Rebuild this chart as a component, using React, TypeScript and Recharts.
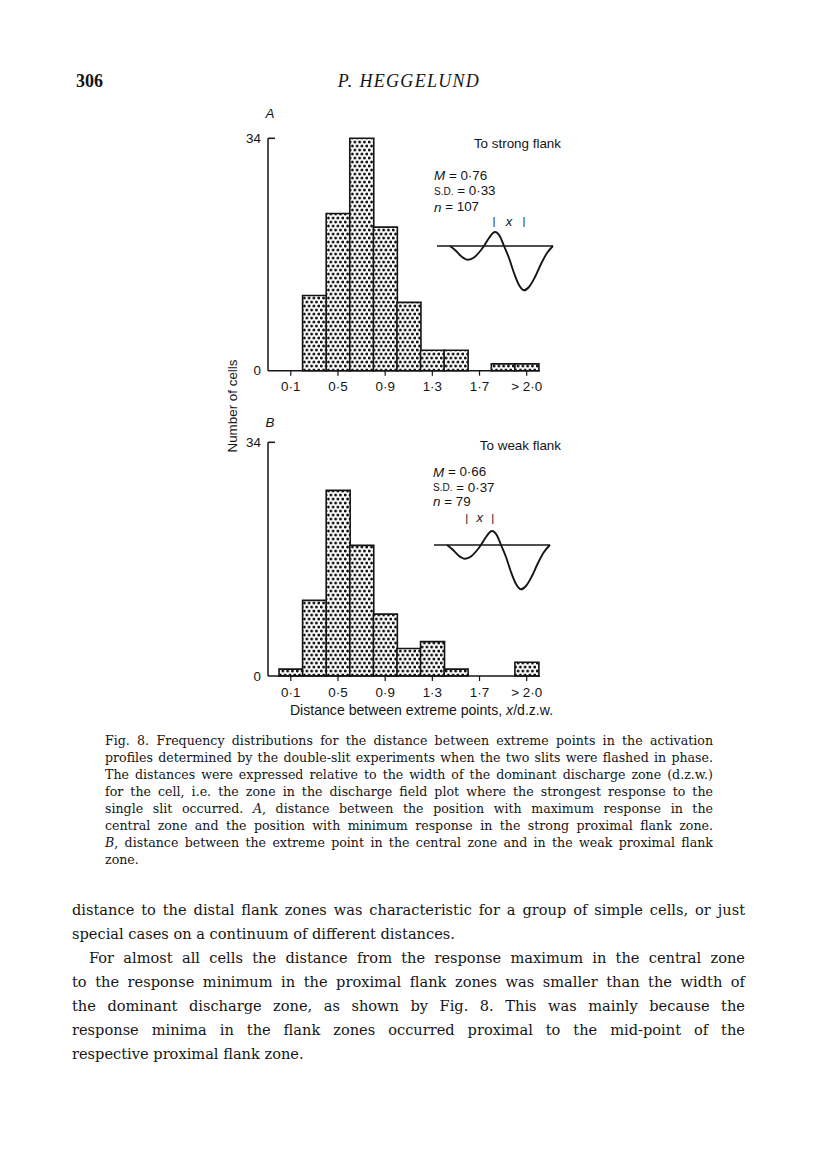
import React from 'react';
import { BarChart, Bar, XAxis, YAxis, LineChart, Line, ReferenceLine } from 'recharts';

// bins of 0.2 d.z.w., labelled by their centre
const bins = ['0·1', '0·3', '0·5', '0·7', '0·9', '1·1', '1·3', '1·5', '1·7', '1·9', '> 2·0'];
const strongCounts = [0, 11, 23, 34, 21, 10, 3, 3, 0, 1, 1]; // A, n = 107
const weakCounts = [1, 11, 27, 19, 9, 4, 5, 1, 0, 0, 2]; // B, n = 79
const yTicks = [0, 34];

// schematic activation profile drawn in the insets
const profileX = [13, 18, 24, 31, 37, 42, 47, 52, 58, 63, 67, 72, 77, 82, 87, 92, 98, 104, 110, 116];
const profileY = [0, -4, -10, -13.7, -11.5, -6.5, 0, 8, 14, 9.5, 0, -12, -27, -39, -44.3, -41, -31, -18, -7, 0];

const captionLines = [
  'Fig. 8. Frequency distributions for the distance between extreme points in the activation',
  'profiles determined by the double-slit experiments when the two slits were flashed in phase.',
  'The distances were expressed relative to the width of the dominant discharge zone (d.z.w.)',
  'for the cell, i.e. the zone in the discharge field plot where the strongest response to the',
  'single slit occurred. *A*, distance between the position with maximum response in the',
  'central zone and the position with minimum response in the strong proximal flank zone.',
  '*B*, distance between the extreme point in the central zone and in the weak proximal flank',
  'zone.',
];

const bodyLines = [
  'distance to the distal flank zones was characteristic for a group of simple cells, or just',
  'special cases on a continuum of different distances.',
  'For almost all cells the distance from the response maximum in the central zone',
  'to the response minimum in the proximal flank zones was smaller than the width of',
  'the dominant discharge zone, as shown by Fig. 8. This was mainly because the',
  'response minima in the flank zones occurred proximal to the mid-point of the',
  'respective proximal flank zone.',
];
const bodyLast = [1, 6];

const SANS = '"Liberation Sans", Arial, sans-serif';
const SERIF = '"Liberation Serif", "Times New Roman", serif';
const BOOK = '"DejaVu Serif", "Liberation Serif", serif';
const INK = '#151515';
const FS = 13.4;

const strongData = bins.map((bin, i) => ({ bin, count: strongCounts[i] }));
const weakData = bins.map((bin, i) => ({ bin, count: weakCounts[i] }));
const profileData = profileX.map((x, i) => ({ x, y: profileY[i] }));

const AXIS_X = 68;
const X_AXIS_H = 25;

function YTick(props: any) {
  const { y, payload } = props;
  return (
    <g>
      <text x={AXIS_X - 7} y={y} textAnchor="end" dominantBaseline="central" fontSize={FS} fontFamily={SANS} fill={INK}>
        {payload.value}
      </text>
      {payload.value === 34 && <line x1={AXIS_X} x2={AXIS_X + 7} y1={y} y2={y} stroke={INK} strokeWidth={1.5} />}
    </g>
  );
}

function Histogram({ data, top, plotTop, plotHeight, id }: any) {
  const H = 300;
  return (
    <div style={{ position: 'absolute', left: 200, top }}>
      <BarChart
        width={380}
        height={H}
        data={data}
        margin={{ top: plotTop, right: 40, bottom: H - plotTop - plotHeight - X_AXIS_H, left: 0 }}
        barCategoryGap={0}
      >
        <defs>
          <pattern id={id} width={4.8} height={8} patternUnits="userSpaceOnUse">
            <rect width={4.8} height={8} fill="#fff" />
            <circle cx={1.2} cy={2} r={1.5} fill="#111" />
            <circle cx={3.6} cy={6} r={1.5} fill="#111" />
          </pattern>
        </defs>
        <XAxis
          dataKey="bin"
          height={X_AXIS_H}
          interval={1}
          tickSize={5}
          tickMargin={6}
          padding={{ left: 11, right: 1.5 }}
          axisLine={{ stroke: INK, strokeWidth: 1.5 }}
          tickLine={{ stroke: INK, strokeWidth: 1.2 }}
          tick={{ fill: INK, fontSize: FS, fontFamily: SANS }}
        />
        <YAxis
          width={AXIS_X}
          domain={[0, 34]}
          ticks={yTicks}
          tickLine={false}
          axisLine={{ stroke: INK, strokeWidth: 1.5 }}
          tick={<YTick />}
        />
        <Bar dataKey="count" fill={`url(#${id})`} stroke={INK} strokeWidth={1.6} isAnimationActive={false} />
      </BarChart>
    </div>
  );
}

function Profile({ left, lineY }: { left: number; lineY: number }) {
  return (
    <div style={{ position: 'absolute', left: left - 2, top: lineY - 16 - 2 }}>
      <LineChart width={120} height={66} data={profileData} margin={{ top: 2, right: 2, bottom: 2, left: 2 }}>
        <XAxis dataKey="x" type="number" domain={[0, 116]} hide />
        <YAxis type="number" domain={[-46, 16]} hide />
        <ReferenceLine y={0} stroke={INK} strokeWidth={1.3} />
        <Line type="monotone" dataKey="y" stroke={INK} strokeWidth={1.9} dot={false} isAnimationActive={false} />
      </LineChart>
    </div>
  );
}

function Stats({ x, y, m, sd, n }: any) {
  const t = { fontFamily: SANS, fontSize: FS, fill: INK, dominantBaseline: 'central' as const };
  return (
    <g>
      <text x={x} y={y[0]} {...t}>
        <tspan fontStyle="italic">M</tspan> = {m}
      </text>
      <text x={x} y={y[1]} {...t}>
        <tspan fontSize={10}>S.D.</tspan> = {sd}
      </text>
      <text x={x} y={y[2]} {...t}>
        <tspan fontStyle="italic">n</tspan> = {n}
      </text>
    </g>
  );
}

function Marker({ x1, x2, y }: any) {
  const t = { fontFamily: SANS, fill: INK, dominantBaseline: 'central' as const, textAnchor: 'middle' as const };
  return (
    <g>
      <text x={x1} y={y} fontSize={11.5} {...t}>|</text>
      <text x={(x1 + x2) / 2} y={y} fontSize={13} fontStyle="italic" {...t}>x</text>
      <text x={x2} y={y} fontSize={11.5} {...t}>|</text>
    </g>
  );
}

function renderLine(s: string) {
  return s.split(/(\*[^*]+\*)/).map((p, i) =>
    p.startsWith('*') ? <i key={i}>{p.slice(1, -1)}</i> : <React.Fragment key={i}>{p}</React.Fragment>
  );
}

export default function App() {
  const t = { fontFamily: SANS, fontSize: FS, fill: INK, dominantBaseline: 'central' as const };
  return (
    <div style={{ position: 'absolute', left: 0, top: 0, width: 816, height: 1155, background: '#fff', color: INK }}>
      <Histogram data={strongData} top={100} plotTop={38.3} plotHeight={232.4} id="dotsA" />
      <Histogram data={weakData} top={405} plotTop={37.3} plotHeight={233.7} id="dotsB" />
      <Profile left={436.7} lineY={245.7} />
      <Profile left={434} lineY={545} />

      <svg width={816} height={1155} style={{ position: 'absolute', left: 0, top: 0, pointerEvents: 'none' }}>
        <text x={76} y={87} fontFamily={SERIF} fontSize={18} fontWeight="bold" fill={INK}>306</text>
        <text x={409} y={87} fontFamily={SERIF} fontSize={18} fontStyle="italic" letterSpacing={1.3} textAnchor="middle" fill={INK}>
          P. HEGGELUND
        </text>

        <text x={270} y={113} {...t} fontStyle="italic" textAnchor="middle">A</text>
        <text x={270} y={422} {...t} fontStyle="italic" textAnchor="middle">B</text>

        <text x={561} y={143} {...t} textAnchor="end">To strong flank</text>
        <text x={561} y={445} {...t} textAnchor="end">To weak flank</text>

        <Stats x={434} y={[175, 190.7, 206.5]} m="0·76" sd="0·33" n="107" />
        <Stats x={433} y={[471.7, 487.3, 501]} m="0·66" sd="0·37" n="79" />

        <Marker x1={494} x2={524} y={221} />
        <Marker x1={466.7} x2={492.7} y={517.5} />

        <text x={0} y={0} {...t} textAnchor="middle" transform="translate(232 406) rotate(-90)">Number of cells</text>
        <text x={421.5} y={710} {...t} fontSize={14.1} textAnchor="middle">
          Distance between extreme points, <tspan fontStyle="italic">x</tspan>/d.z.w.
        </text>
      </svg>

      <div style={{ position: 'absolute', left: 105, top: 732, width: 608, fontFamily: BOOK, fontSize: 12.6, lineHeight: '17px' }}>
        {captionLines.map((l, i) => (
          <div key={i} style={{ textAlign: 'justify', textAlignLast: i === captionLines.length - 1 ? 'left' : 'justify' }}>
            {renderLine(l)}
          </div>
        ))}
      </div>

      <div style={{ position: 'absolute', left: 72, top: 898, width: 673, fontFamily: BOOK, fontSize: 14.6, lineHeight: '24px' }}>
        {bodyLines.map((l, i) => (
          <div
            key={i}
            style={{
              textAlign: 'justify',
              textAlignLast: bodyLast.includes(i) ? 'left' : 'justify',
              textIndent: i === 2 ? 17 : 0,
            }}
          >
            {l}
          </div>
        ))}
      </div>
    </div>
  );
}
